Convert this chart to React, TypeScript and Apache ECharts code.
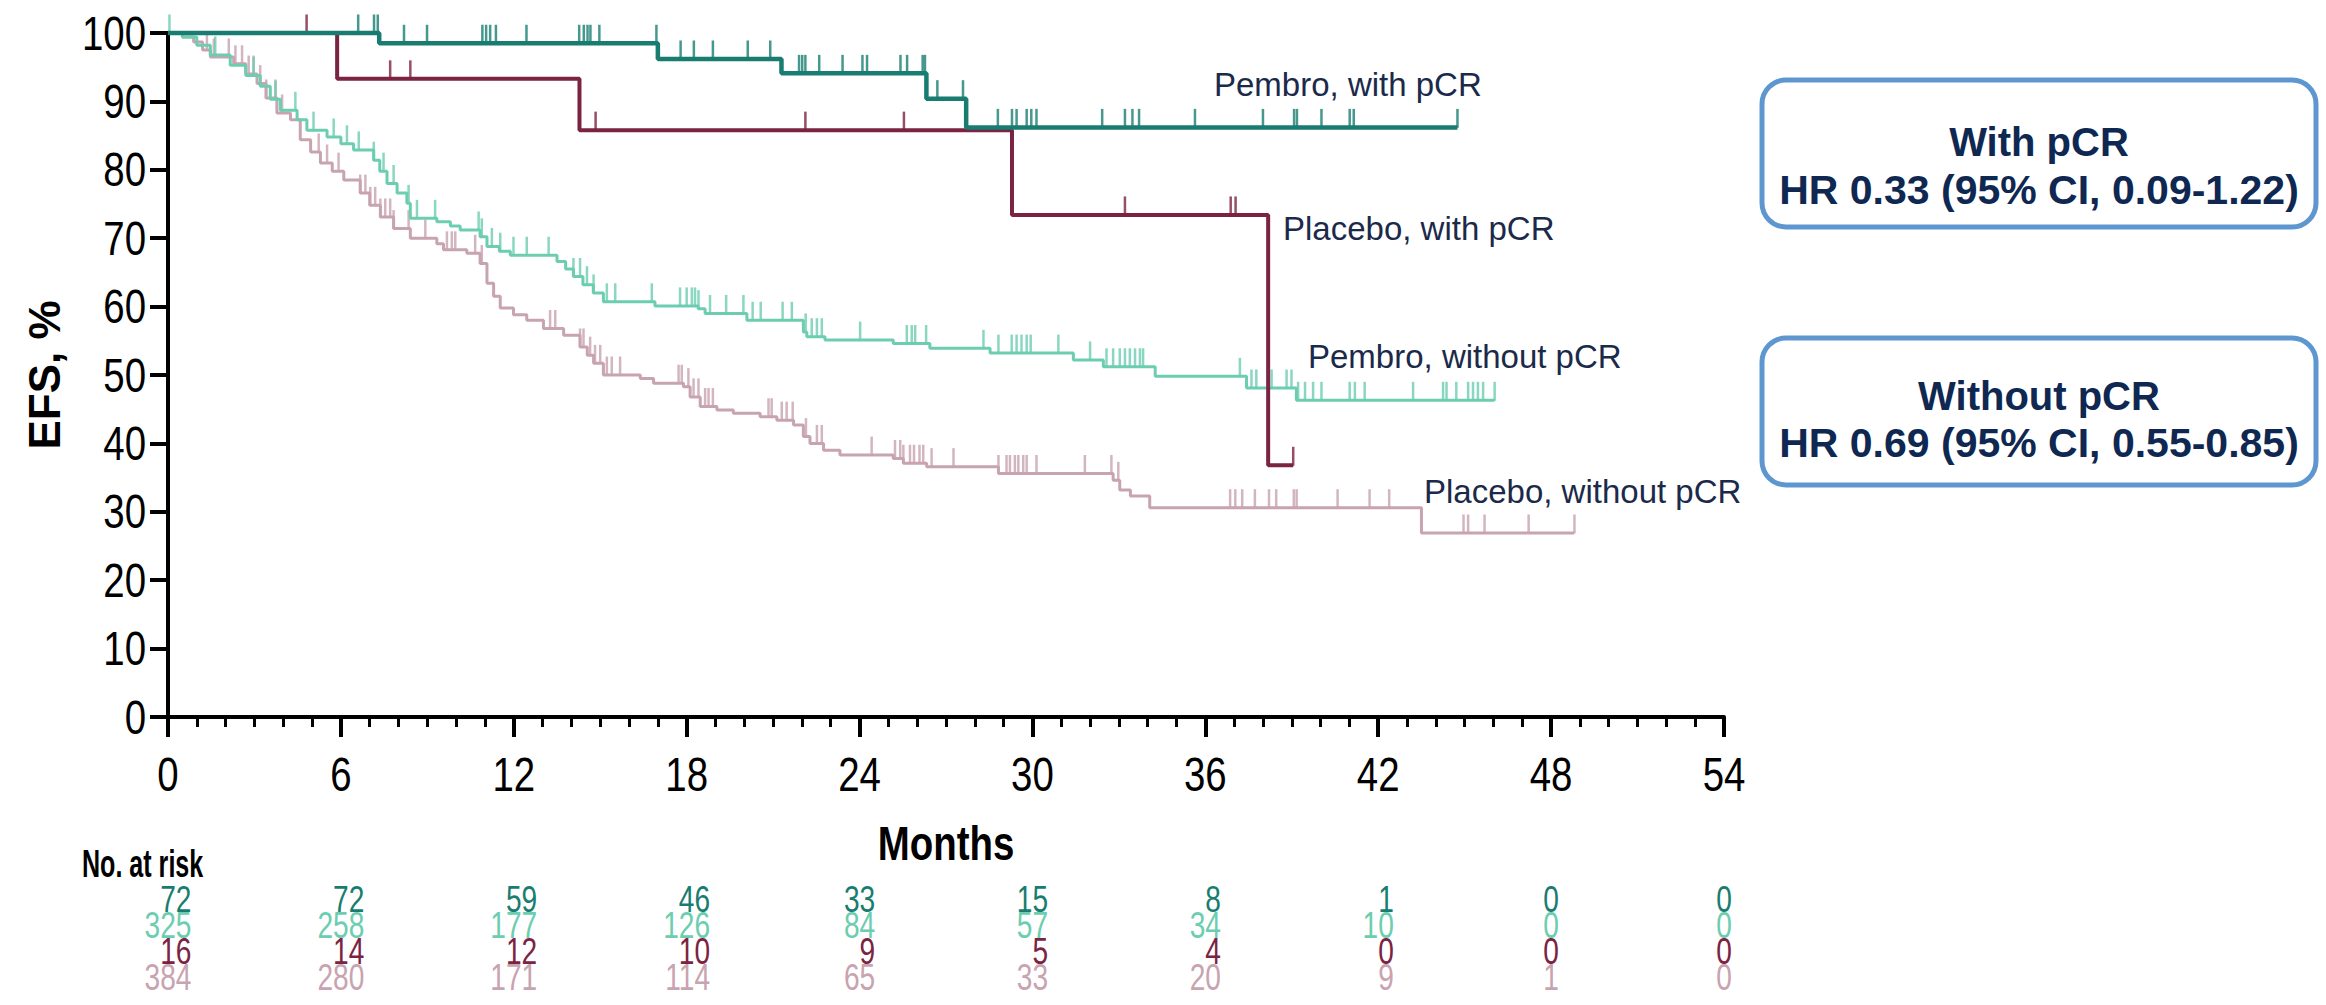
import React, { useEffect, useRef } from "react";
import * as echarts from "echarts";

// ---------- DATA ----------
const xTickLabels = [0, 6, 12, 18, 24, 30, 36, 42, 48, 54];
const yTickLabels = [0, 10, 20, 30, 40, 50, 60, 70, 80, 90, 100];
const riskTimes = [0, 6, 12, 18, 24, 30, 36, 42, 48, 54];

const pembroPcrRisk = [72, 72, 59, 46, 33, 15, 8, 1, 0, 0];
const pembroNoPcrRisk = [325, 258, 177, 126, 84, 57, 34, 10, 0, 0];
const placeboPcrRisk = [16, 14, 12, 10, 9, 5, 4, 0, 0, 0];
const placeboNoPcrRisk = [384, 280, 171, 114, 65, 33, 20, 9, 1, 0];

// KM steps: [month, EFS% after the step]
const pembroPcrSteps = [
  [0, 100], [7.33, 98.5], [17.0, 96.2], [21.29, 94.1], [26.32, 90.4], [27.7, 86.2], [44.75, 86.2],
];
const placeboPcrSteps = [
  [0, 100], [5.87, 93.3], [14.28, 85.8], [29.29, 73.4], [38.18, 36.8], [39.05, 36.8],
];
const pembroNoPcrSteps = [
  [0, 100], [0.5, 99.4], [1.0, 98.2], [1.47, 96.8], [2.16, 95.3], [2.7, 93.8], [3.2, 92.2],
  [3.55, 90.3], [3.9, 88.7], [4.48, 87.3], [4.82, 85.8], [5.52, 84.8], [6.0, 83.8], [6.44, 82.9],
  [7.14, 81.4], [7.35, 79.8], [7.6, 78.0], [7.95, 76.6], [8.29, 75.1], [8.41, 72.9], [9.33, 72.4],
  [9.8, 71.8], [10.14, 71.2], [10.83, 70.2], [11.07, 68.8], [11.5, 68.1], [11.88, 67.5],
  [13.5, 66.6], [13.8, 65.5], [14.07, 64.4], [14.4, 63.2], [14.76, 62.0], [15.11, 60.7],
  [16.9, 60.1], [18.4, 59.7], [18.64, 59.0], [20.09, 58.0], [22.05, 56.3], [22.17, 55.6],
  [22.8, 55.1], [25.17, 54.6], [26.44, 53.9], [28.53, 53.2], [31.42, 52.2], [32.46, 51.2],
  [34.26, 49.8], [37.43, 48.1], [39.16, 46.3], [46.04, 46.3],
];
const placeboNoPcrSteps = [
  [0, 100], [0.5, 99.4], [0.89, 98.7], [1.2, 97.5], [1.47, 96.5], [2.28, 95.5], [2.7, 94.0],
  [3.09, 92.6], [3.4, 90.5], [3.78, 88.3], [4.25, 87.3], [4.59, 84.4], [4.95, 82.6], [5.29, 81.0],
  [5.7, 79.8], [6.1, 78.5], [6.67, 76.6], [7.0, 74.8], [7.37, 73.1], [7.83, 71.4], [8.41, 70.0],
  [9.33, 69.2], [9.56, 68.3], [10.37, 67.8], [10.83, 66.3], [11.07, 63.4], [11.3, 61.5],
  [11.53, 59.8], [11.99, 58.8], [12.45, 58.0], [13.03, 56.8], [13.73, 55.8], [14.3, 54.1],
  [14.55, 52.9], [14.77, 51.7], [15.11, 50.0], [16.39, 49.5], [16.85, 48.8], [17.89, 48.3],
  [18.12, 46.8], [18.47, 45.4], [19.05, 44.9], [19.62, 44.4], [20.55, 43.9], [21.13, 43.4],
  [21.71, 42.7], [22.05, 41.0], [22.28, 40.0], [22.75, 39.0], [23.32, 38.3], [25.17, 37.8],
  [25.52, 37.1], [26.33, 36.6], [28.82, 35.6], [32.8, 34.6], [33.03, 33.2], [33.4, 32.3],
  [34.07, 30.6], [43.5, 26.9], [48.8, 26.9],
];

// censor times (months)
const pembroPcrCensor = [
  6.6, 7.15, 7.28, 8.19, 8.99, 10.91, 11.04, 11.18, 11.38, 12.44, 14.27, 14.43, 14.56, 14.66, 14.97,
  16.95, 17.79, 18.25, 18.91, 20.12, 20.9, 21.9, 22.01, 22.12, 22.6, 23.41, 24.1, 24.26, 25.42,
  25.65, 26.19, 26.27, 26.7, 27.59, 28.8, 29.29, 29.45, 29.8, 29.96, 30.14, 32.42, 33.21, 33.47,
  33.7, 35.64, 38.0, 39.08, 39.18, 40.03, 41.01, 41.15, 44.75,
];
const placeboPcrCensor = [4.81, 7.71, 8.41, 14.84, 22.12, 25.54, 33.21, 36.88, 37.05, 39.05];
const pembroNoPcrCensor = [
  0.05, 1.64, 2.97, 3.73, 4.42, 5.05, 5.75, 6.21, 6.62, 7.14, 7.48, 7.83, 8.35, 8.64, 9.27, 10.78,
  10.89, 11.24, 11.53, 11.99, 12.45, 13.21, 14.07, 14.3, 14.54, 14.77, 15.23, 15.52, 16.79, 17.77,
  18.0, 18.18, 18.29, 18.41, 18.81, 19.37, 19.97, 20.29, 20.57, 21.33, 21.65, 22.13, 22.34, 22.52,
  22.69, 24.02, 25.64, 25.81, 25.93, 26.31, 28.3, 28.82, 29.28, 29.45, 29.62, 29.8, 29.94, 30.9,
  32.0, 32.57, 32.8, 33.03, 33.21, 33.38, 33.56, 33.73, 33.84, 37.2, 37.6, 37.77, 38.3, 38.82,
  38.99, 39.22, 39.46, 39.74, 40.03, 41.01, 41.19, 41.53, 43.21, 44.25, 44.37, 44.71, 45.12,
  45.29, 45.46, 45.64, 46.04,
];
const placeboNoPcrCensor = [
  1.35, 1.59, 2.11, 2.34, 2.57, 2.8, 2.97, 3.2, 3.41, 3.73, 3.96, 5.23, 5.52, 5.92, 6.67, 6.85,
  7.02, 7.19, 7.37, 7.54, 7.71, 7.83, 8.35, 8.93, 9.68, 9.85, 9.97, 10.66, 10.89, 13.26, 13.44,
  14.3, 14.42, 14.65, 14.82, 15.0, 15.23, 15.4, 15.69, 17.72, 17.83, 18.06, 18.24, 18.41, 18.64,
  18.76, 18.91, 20.84, 20.95, 21.3, 21.47, 21.68, 22.14, 22.52, 22.69, 24.42, 25.23, 25.41, 25.52,
  25.75, 25.89, 26.08, 26.21, 26.5, 27.26, 28.82, 29.1, 29.22, 29.39, 29.51, 29.68, 29.8, 30.14,
  31.82, 32.74, 32.98, 36.86, 37.04, 37.28, 37.72, 38.21, 38.46, 39.07, 39.17, 40.59, 41.7, 42.38,
  44.96, 45.12, 45.69, 47.22, 48.81,
];

// ---------- STYLE ----------
const C_PEMBRO_PCR = "#187d70";
const C_PEMBRO_NO = "#6ccdb0";
const C_PLACEBO_PCR = "#7b2342";
const C_PLACEBO_NO = "#c8a3b0";
const NAVY = "#1b2a4a";
const BOX_TEXT = "#0f2852";
const BOX_BORDER = "#5e97d0";
const SANS = "'Liberation Sans', Arial, sans-serif";
const NARROW_SCALE = 0.8;

function kmAt(steps: number[][], t: number) {
  let v = steps[0][1];
  for (const [st, sv] of steps) {
    if (st <= t) v = sv;
    else break;
  }
  return v;
}

function curveSeries(name: string, steps: number[][], censor: number[], color: string, width: number, z: number) {
  return [
    {
      name,
      type: "line",
      step: "end",
      data: steps,
      symbol: "none",
      lineStyle: { color, width },
      z,
      clip: false,
    },
    {
      name: name + " censored",
      type: "scatter",
      data: censor.map((t) => [t, kmAt(steps, t)]),
      symbol: "rect",
      symbolSize: [2.5, 19],
      symbolOffset: [0, -9],
      itemStyle: { color },
      z,
      clip: false,
    },
  ];
}

// condensed text (the reference uses a narrow face): scaled horizontally
function narrowText(
  text: string, x: number, y: number, font: string, fill: string, align: string,
  lineHeight?: number, scale: number = NARROW_SCALE
) {
  return {
    type: "text",
    x,
    y,
    scaleX: scale,
    style: {
      text,
      x: 0,
      y: 0,
      fill,
      font,
      align,
      verticalAlign: "middle",
      lineHeight: lineHeight,
    },
  };
}

export default function App() {
  const ref = useRef<HTMLDivElement>(null);

  useEffect(() => {
    document.body.style.margin = "0";
    const chart = echarts.init(ref.current!, null, { renderer: "svg" });

    const option: any = {
      animation: false,
      backgroundColor: "#ffffff",
      grid: { left: 168, top: 33, right: 602, bottom: 288 },
      xAxis: {
        type: "value",
        min: 0,
        max: 54,
        interval: 6,
        axisLine: { show: true, onZero: false, lineStyle: { color: "#000", width: 4 } },
        axisTick: { show: true, length: 20, lineStyle: { color: "#000", width: 4 } },
        minorTick: { show: true, splitNumber: 6, length: 10, lineStyle: { color: "#000", width: 3 } },
        splitLine: { show: false },
        minorSplitLine: { show: false },
        axisLabel: { show: false },
      },
      yAxis: {
        type: "value",
        min: 0,
        max: 100,
        interval: 10,
        name: "EFS, %",
        nameLocation: "middle",
        nameRotate: 90,
        nameGap: 102,
        nameTextStyle: { fontFamily: SANS, fontWeight: "bold", fontSize: 44, color: "#000" },
        axisLine: { show: true, lineStyle: { color: "#000", width: 4 } },
        axisTick: { show: true, length: 18, lineStyle: { color: "#000", width: 4 } },
        splitLine: { show: false },
        axisLabel: { show: false },
      },
      series: [
        ...curveSeries("Placebo, without pCR", placeboNoPcrSteps, placeboNoPcrCensor, C_PLACEBO_NO, 3, 2),
        ...curveSeries("Pembro, without pCR", pembroNoPcrSteps, pembroNoPcrCensor, C_PEMBRO_NO, 3, 3),
        ...curveSeries("Placebo, with pCR", placeboPcrSteps, placeboPcrCensor, C_PLACEBO_PCR, 4, 4),
        ...curveSeries("Pembro, with pCR", pembroPcrSteps, pembroPcrCensor, C_PEMBRO_PCR, 4.5, 5),
      ],
    };
    chart.setOption(option);

    const xPix = (v: number) => chart.convertToPixel({ xAxisIndex: 0 }, v) as number;
    const yPix = (v: number) => chart.convertToPixel({ yAxisIndex: 0 }, v) as number;
    const axisX = xPix(0);
    const axisY = yPix(0);

    // ----- tick labels (narrow face), positioned through the axes' scales -----
    const tickTexts: any[] = [];
    xTickLabels.forEach((v) => {
      tickTexts.push(narrowText(String(v), xPix(v), axisY + 57, `48px ${SANS}`, "#000", "center", 48));
    });
    yTickLabels.forEach((v) => {
      tickTexts.push(narrowText(String(v), axisX - 22, yPix(v), `48px ${SANS}`, "#000", "right", 48));
    });

    // ----- number at risk table -----
    const riskRows = [
      { vals: pembroPcrRisk, color: C_PEMBRO_PCR, y: 899 },
      { vals: pembroNoPcrRisk, color: C_PEMBRO_NO, y: 925 },
      { vals: placeboPcrRisk, color: C_PLACEBO_PCR, y: 951 },
      { vals: placeboNoPcrRisk, color: C_PLACEBO_NO, y: 977 },
    ];
    const riskFont = 37;
    const riskScale = 0.76;
    const digitW = riskFont * 0.556 * riskScale;
    const riskTexts: any[] = [];
    riskTimes.forEach((t, c) => {
      const px = xPix(t);
      const maxLen = Math.max(...riskRows.map((r) => String(r.vals[c]).length));
      const right = px + (maxLen * digitW) / 2;
      riskRows.forEach((r) => {
        riskTexts.push(
          narrowText(String(r.vals[c]), right, r.y, `${riskFont}px ${SANS}`, r.color, "right", 25, riskScale)
        );
      });
    });

    const label = (text: string, x: number, y: number) => ({
      type: "text",
      x,
      y,
      style: { text, fill: NAVY, font: `33px ${SANS}`, align: "left", verticalAlign: "middle" },
    });

    const box = (y: number, h: number, l1: string, l2: string, ty1: number, ty2: number) => [
      {
        type: "rect",
        shape: { x: 1762, y, width: 554, height: h, r: 24 },
        style: { fill: "#ffffff", stroke: BOX_BORDER, lineWidth: 5 },
      },
      {
        type: "text",
        x: 2039,
        y: ty1,
        style: { text: l1, fill: BOX_TEXT, font: `bold 40px ${SANS}`, align: "center", verticalAlign: "middle" },
      },
      {
        type: "text",
        x: 2039,
        y: ty2,
        style: { text: l2, fill: BOX_TEXT, font: `bold 41px ${SANS}`, align: "center", verticalAlign: "middle" },
      },
    ];

    chart.setOption({
      graphic: [
        ...tickTexts,
        narrowText("Months", xPix(27), 843, `bold 48px ${SANS}`, "#000", "center"),
        narrowText("No. at risk", 82, 864, `bold 38px ${SANS}`, "#000", "left", undefined, 0.66),
        label("Pembro, with pCR", 1214, 84),
        label("Placebo, with pCR", 1283, 228),
        label("Pembro, without pCR", 1308, 356),
        label("Placebo, without pCR", 1424, 491),
        ...box(80, 147, "With pCR", "HR 0.33 (95% CI, 0.09-1.22)", 142, 190),
        ...box(338, 147, "Without pCR", "HR 0.69 (95% CI, 0.55-0.85)", 396, 443),
        ...riskTexts,
      ],
    });

    return () => chart.dispose();
  }, []);

  return <div ref={ref} style={{ width: 2326, height: 1005 }} />;
}
